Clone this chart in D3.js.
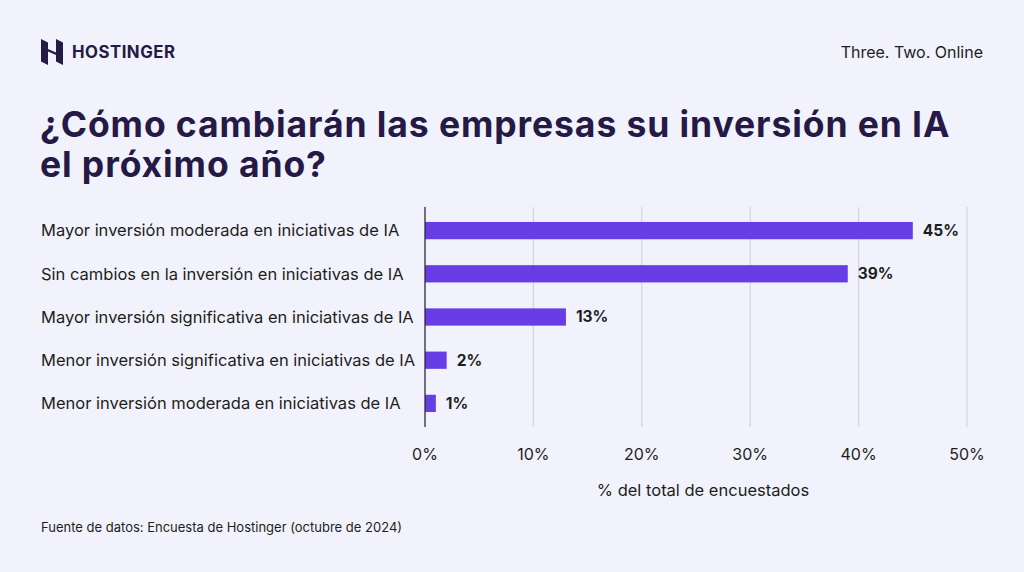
<!DOCTYPE html>
<html><head><meta charset="utf-8">
<script src="https://cdn.jsdelivr.net/npm/d3@7"></script>
<style>
html,body{margin:0;padding:0;background:#f2f2fc;}
svg{display:block;font-family:Inter,"Noto Sans",sans-serif;}
</style></head>
<body>
<svg id="c" width="1024" height="572"></svg>
<script>
const categories = [
  "Mayor inversión moderada en iniciativas de IA",
  "Sin cambios en la inversión en iniciativas de IA",
  "Mayor inversión significativa en iniciativas de IA",
  "Menor inversión significativa en iniciativas de IA",
  "Menor inversión moderada en iniciativas de IA"
];
const values = [45, 39, 13, 2, 1];
const tickValues = [0, 10, 20, 30, 40, 50];
const tickLabels = ["0%", "10%", "20%", "30%", "40%", "50%"];
const titleLines = ["¿Cómo cambiarán las empresas su inversión en IA", "el próximo año?"];
const axisTitle = "% del total de encuestados";
const source = "Fuente de datos: Encuesta de Hostinger (octubre de 2024)";

const svg = d3.select("#c");
const ink = "#1d1e20", titleInk = "#241a45", purple = "#673de6";

svg.append("rect").attr("width",1024).attr("height",572).attr("fill","#f2f2fc");

// logo
const logo = svg.append("g").attr("transform","translate(41,39)");
logo.append("path").attr("fill","#241a45")
  .attr("d","M0,0 L7,3.5 L7,10 L15,13.5 L15,0 L22,3.5 L22,26 L15,22.5 L15,16 L7,12.5 L7,26 L0,22.5 Z");
svg.append("text").attr("x",72).attr("y",58).attr("font-size",16.8).attr("font-weight",700)
  .attr("letter-spacing",0.5).attr("fill","#241a45").text("HOSTINGER");
svg.append("text").attr("x",983).attr("y",58).attr("text-anchor","end").attr("font-size",16)
  .attr("fill",ink).text("Three. Two. Online");

// title
svg.selectAll("text.title").data(titleLines).join("text").attr("class","title")
  .attr("x",40).attr("y",(d,i)=>137+i*40).attr("font-size",35.5).attr("font-weight",700)
  .attr("letter-spacing",0.9).attr("fill",titleInk).text(d=>d);

// scales
const x = d3.scaleLinear().domain([0,50]).range([425,967]);
const y = d3.scaleBand().domain(categories).range([209,425]).paddingInner(0.6).paddingOuter(0.3);

// gridlines
svg.append("g").selectAll("line").data(tickValues.slice(1)).join("line")
  .attr("x1",d=>x(d)).attr("x2",d=>x(d)).attr("y1",207).attr("y2",427)
  .attr("stroke","#d3d3e3").attr("stroke-width",1.2);

// bars
svg.append("g").selectAll("rect").data(values).join("rect")
  .attr("x",x(0)).attr("y",(d,i)=>y(categories[i]))
  .attr("width",d=>x(d)-x(0)).attr("height",y.bandwidth()).attr("fill",purple);

// axis line
svg.append("line").attr("x1",x(0)).attr("x2",x(0)).attr("y1",207).attr("y2",427)
  .attr("stroke","#2a2a35").attr("stroke-width",1.3);

// value labels
svg.append("g").selectAll("text").data(values).join("text")
  .attr("x",d=>x(d)+10).attr("y",(d,i)=>y(categories[i])+y.bandwidth()/2)
  .attr("dy","0.35em").attr("font-size",15.5).attr("font-weight",700).attr("fill",ink)
  .text(d=>d+"%");

// category labels
svg.append("g").selectAll("text").data(categories).join("text")
  .attr("x",41).attr("y",d=>y(d)+y.bandwidth()/2).attr("dy","0.35em")
  .attr("font-size",16.5).attr("fill",ink).text(d=>d);

// tick labels
svg.append("g").selectAll("text").data(tickValues).join("text")
  .attr("x",d=>x(d)).attr("y",460).attr("text-anchor","middle")
  .attr("font-size",16).attr("fill",ink).text((d,i)=>tickLabels[i]);

svg.append("text").attr("x",703).attr("y",496).attr("text-anchor","middle")
  .attr("font-size",16.5).attr("fill",ink).text(axisTitle);

svg.append("text").attr("x",41).attr("y",532).attr("font-size",13).attr("fill",ink).text(source);
</script>
</body></html>
